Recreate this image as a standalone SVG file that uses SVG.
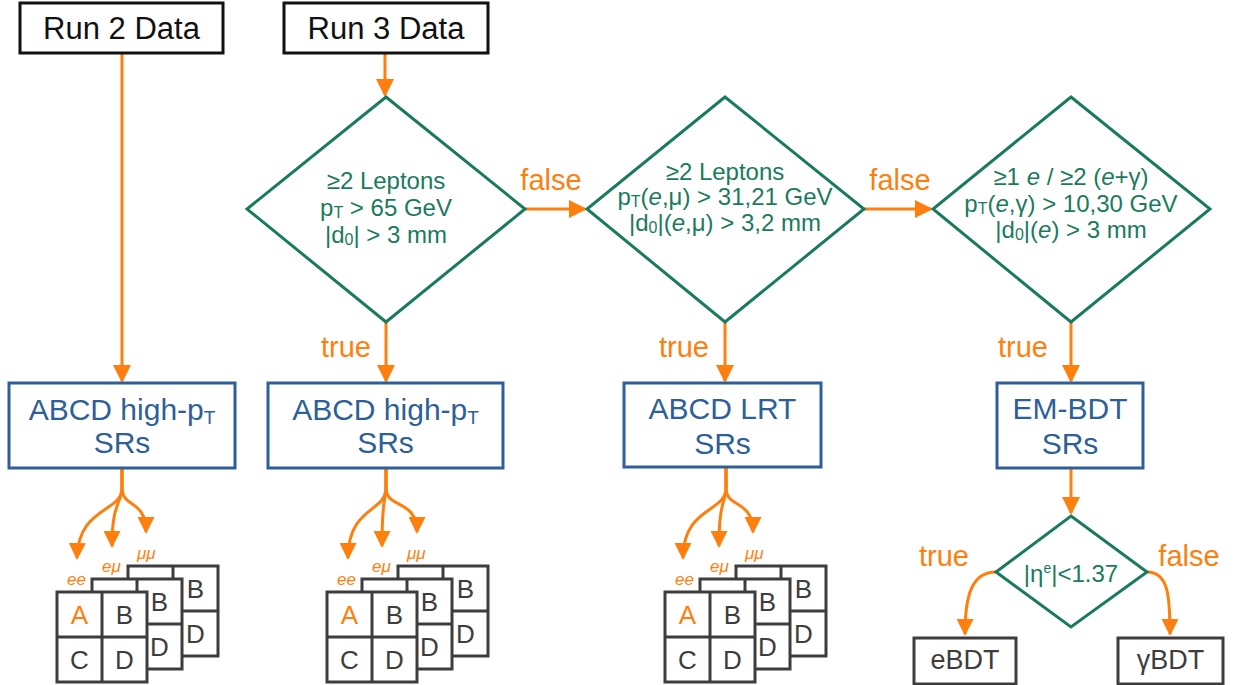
<svg xmlns="http://www.w3.org/2000/svg" xmlns:xlink="http://www.w3.org/1999/xlink" width="1242" height="685" viewBox="0 0 1242 685">
<style>
text{font-family:"Liberation Sans",Arial,sans-serif}
.blk{fill:#fff;stroke:#111;stroke-width:3}
.blu{fill:#fff;stroke:#2e5f98;stroke-width:3}
.dia{fill:#fff;stroke:#1a7a5e;stroke-width:3}
.gry{fill:#fff;stroke:#3d3d3d;stroke-width:3}
.tb{fill:#111;font-size:31px;text-anchor:middle}
.tblu{fill:#2e5f98;font-size:30px;text-anchor:middle}
.tg{fill:#1a7a5e;font-size:24px;text-anchor:middle}
.tgr{fill:#3d3d3d;font-size:27px;text-anchor:middle}
.lab{fill:#ff7f0e;font-size:29px;text-anchor:middle}
.ch{fill:#ff7f0e;font-size:17px;font-style:italic}
.cell{fill:#3d3d3d;font-size:26px;text-anchor:middle}
.cellA{fill:#ff7f0e;font-size:26px;text-anchor:middle}
.con{fill:none;stroke:#ff7f0e;stroke-width:3}
.ln{stroke:#3d3d3d;stroke-width:3}
</style>
<defs>
<marker id="ah" markerUnits="userSpaceOnUse" markerWidth="18" markerHeight="18" refX="16" refY="9" orient="auto">
<path d="M0,0 L18,9 L0,18 z" fill="#ff7f0e"/>
</marker>
<marker id="ahs" markerUnits="userSpaceOnUse" markerWidth="17" markerHeight="17" refX="15" refY="8.5" orient="auto">
<path d="M0,0 L17,8.5 L0,17 z" fill="#ff7f0e"/>
</marker>
<g id="gridstack">
<rect class="gry" x="71" y="566" width="90" height="90"/>
<line class="ln" x1="116" y1="566" x2="116" y2="656"/>
<line class="ln" x1="71" y1="611" x2="161" y2="611"/>
<text class="cell" x="138.5" y="598">B</text>
<text class="cell" x="138.5" y="643">D</text>
<rect class="gry" x="35" y="579" width="90" height="90"/>
<line class="ln" x1="80" y1="579" x2="80" y2="669"/>
<line class="ln" x1="35" y1="624" x2="125" y2="624"/>
<text class="cell" x="102.5" y="611">B</text>
<text class="cell" x="102.5" y="656">D</text>
<rect class="gry" x="0" y="592" width="90" height="90"/>
<line class="ln" x1="45" y1="592" x2="45" y2="682"/>
<line class="ln" x1="0" y1="637" x2="90" y2="637"/>
<text class="cellA" x="22.5" y="624">A</text>
<text class="cell" x="67.5" y="624">B</text>
<text class="cell" x="22.5" y="669">C</text>
<text class="cell" x="67.5" y="669">D</text>
<text class="ch" x="10" y="585">ee</text>
<text class="ch" x="45" y="572">eμ</text>
<text class="ch" x="80" y="559">μμ</text>
</g>
</defs>

<g id="connectors">
<path class="con" d="M122,53 V381" marker-end="url(#ah)"/>
<path class="con" d="M385,53 V95" marker-end="url(#ah)"/>
<path class="con" d="M386,322 V381" marker-end="url(#ah)"/>
<path class="con" d="M525,209 H585" marker-end="url(#ah)"/>
<path class="con" d="M725,322 V381" marker-end="url(#ah)"/>
<path class="con" d="M863,209 H931" marker-end="url(#ah)"/>
<path class="con" d="M1071,322 V381" marker-end="url(#ah)"/>
<path class="con" d="M1071,468 V513" marker-end="url(#ah)"/>
<path class="con" d="M996,572 C972,572 965,595 965,634" marker-end="url(#ahs)"/>
<path class="con" d="M1147,572 C1168,572 1170,595 1170,634" marker-end="url(#ahs)"/>
<path class="con" d="M122,468 L122,490 C120,512 78,508 77,558" marker-end="url(#ahs)"/>
<path class="con" d="M122,468 L122,490 C120,505 112,505 112,546" marker-end="url(#ahs)"/>
<path class="con" d="M122,468 L122,490 C124,508 146,500 146,532" marker-end="url(#ahs)"/>
<path class="con" d="M386,468 L386,490 C384,512 348,508 348,558" marker-end="url(#ahs)"/>
<path class="con" d="M386,468 L386,490 C384,505 382,505 382,546" marker-end="url(#ahs)"/>
<path class="con" d="M386,468 L386,490 C388,508 417,500 417,532" marker-end="url(#ahs)"/>
<path class="con" d="M726,467 L726,490 C724,512 683,508 683,558" marker-end="url(#ahs)"/>
<path class="con" d="M726,467 L726,490 C724,505 719,505 719,546" marker-end="url(#ahs)"/>
<path class="con" d="M726,467 L726,490 C728,508 753,500 753,532" marker-end="url(#ahs)"/>
<text class="lab" x="551" y="190">false</text>
<text class="lab" x="900" y="190">false</text>
<text class="lab" x="346" y="357">true</text>
<text class="lab" x="684" y="357">true</text>
<text class="lab" x="1023" y="357">true</text>
<text class="lab" x="944" y="566">true</text>
<text class="lab" x="1189" y="566">false</text>
</g>

<g id="run2">
<rect class="blk" x="20" y="3" width="203" height="50"/>
<text class="tb" x="121.5" y="39">Run 2 Data</text>
</g>
<g id="run3">
<rect class="blk" x="284" y="3" width="204" height="50"/>
<text class="tb" x="386" y="39">Run 3 Data</text>
</g>

<g id="cut1">
<polygon class="dia" points="386,97 525,209 386,322 247,209"/>
<text class="tg" x="386" y="189">≥2 Leptons</text>
<text class="tg" x="386" y="216">p<tspan font-size="16" dy="2">T</tspan><tspan dy="-2"> &gt; 65 GeV</tspan></text>
<text class="tg" x="386" y="243">|d<tspan font-size="16" dy="2">0</tspan><tspan dy="-2">| &gt; 3 mm</tspan></text>
</g>
<g id="cut2">
<polygon class="dia" points="725,97 864,209 725,322 587,209"/>
<text class="tg" x="725" y="180">≥2 Leptons</text>
<text class="tg" x="725" y="205">p<tspan font-size="16" dy="2">T</tspan><tspan dy="-2">(<tspan font-style="italic">e</tspan>,μ) &gt; 31,21 GeV</tspan></text>
<text class="tg" x="725" y="231">|d<tspan font-size="16" dy="2">0</tspan><tspan dy="-2">|(<tspan font-style="italic">e</tspan>,μ) &gt; 3,2 mm</tspan></text>
</g>
<g id="cut3">
<polygon class="dia" points="1071,97 1210,209 1071,322 933,209"/>
<text class="tg" x="1071" y="185">≥1 <tspan font-style="italic">e</tspan> / ≥2 (<tspan font-style="italic">e</tspan>+γ)</text>
<text class="tg" x="1071" y="212">p<tspan font-size="16" dy="2">T</tspan><tspan dy="-2">(<tspan font-style="italic">e</tspan>,γ) &gt; 10,30 GeV</tspan></text>
<text class="tg" x="1071" y="238">|d<tspan font-size="16" dy="2">0</tspan><tspan dy="-2">|(<tspan font-style="italic">e</tspan>) &gt; 3 mm</tspan></text>
</g>
<g id="cut4">
<polygon class="dia" points="1071,516 1147,572 1071,627 996,572"/>
<text class="tg" x="1071" y="582" font-size="23">|η<tspan font-size="14" dy="-9">e</tspan><tspan dy="9">|&lt;1.37</tspan></text>
</g>

<g id="sr-highpt-run2">
<rect class="blu" x="9" y="383" width="226" height="85"/>
<text class="tblu" x="122" y="420">ABCD high-p<tspan font-size="19" dy="4">T</tspan></text>
<text class="tblu" x="122" y="453">SRs</text>
</g>
<g id="sr-highpt-run3">
<rect class="blu" x="268" y="383" width="235" height="85"/>
<text class="tblu" x="385.5" y="420">ABCD high-p<tspan font-size="19" dy="4">T</tspan></text>
<text class="tblu" x="385.5" y="453">SRs</text>
</g>
<g id="sr-lrt">
<rect class="blu" x="624" y="383" width="197" height="84"/>
<text class="tblu" x="722.5" y="419">ABCD LRT</text>
<text class="tblu" x="722.5" y="454">SRs</text>
</g>
<g id="sr-embdt">
<rect class="blu" x="997" y="383" width="146" height="85"/>
<text class="tblu" x="1070" y="419">EM-BDT</text>
<text class="tblu" x="1070" y="454">SRs</text>
</g>

<g id="grids-run2"><use xlink:href="#gridstack" x="57"/></g>
<g id="grids-highpt"><use xlink:href="#gridstack" x="327"/></g>
<g id="grids-lrt"><use xlink:href="#gridstack" x="665"/></g>

<g id="ebdt">
<rect class="gry" x="914" y="638" width="102" height="46"/>
<text class="tgr" x="965" y="669">eBDT</text>
</g>
<g id="gbdt">
<rect class="gry" x="1118" y="638" width="105" height="46"/>
<text class="tgr" x="1170.5" y="669">γBDT</text>
</g>
</svg>
